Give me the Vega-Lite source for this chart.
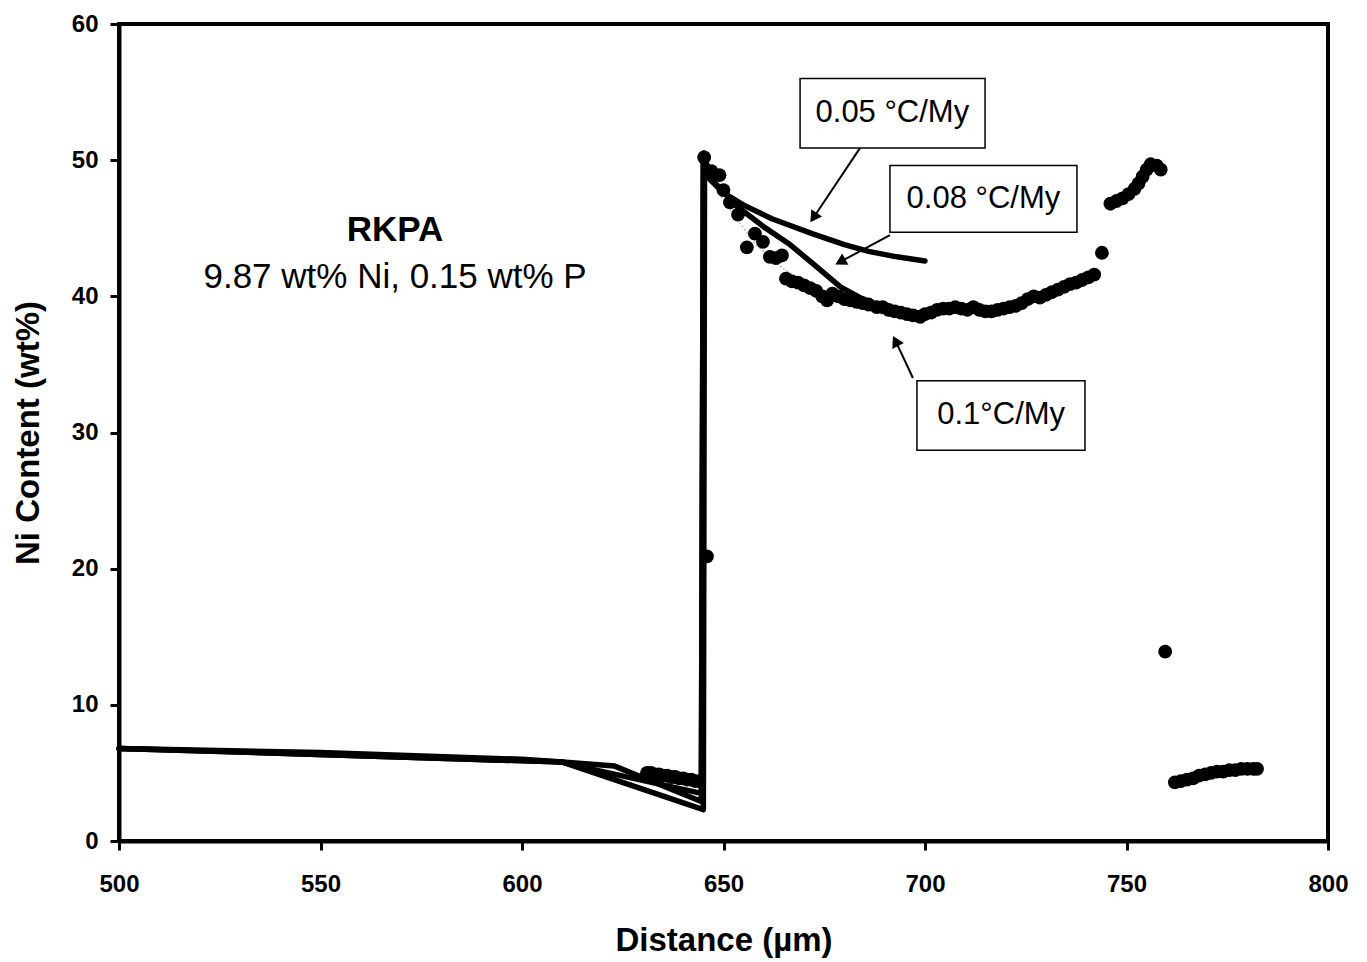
{
  "$schema": "https://vega.github.io/schema/vega-lite/v6.json",
  "width": 1209,
  "height": 817,
  "autosize": "none",
  "padding": {"left": 119, "top": 24, "right": 39, "bottom": 121},
  "background": "white",
  "config": {
    "view": {"stroke": "black", "strokeWidth": 4},
    "font": "Liberation Sans",
    "axis": {
      "grid": false,
      "domainColor": "black",
      "domainWidth": 4,
      "tickColor": "black",
      "tickWidth": 3,
      "tickSize": 9,
      "labelFont": "Liberation Sans",
      "labelFontWeight": "bold",
      "labelFontSize": 24,
      "labelColor": "black",
      "labelFlush": false,
      "titleFont": "Liberation Sans",
      "titleFontWeight": "bold",
      "titleFontSize": 33,
      "titleColor": "black"
    }
  },
  "datasets": {
    "model": [
      {"s": "0.05", "o": 1, "x": 500, "y": 6.8},
      {"s": "0.05", "o": 2, "x": 550, "y": 6.5},
      {"s": "0.05", "o": 3, "x": 600, "y": 6.0},
      {"s": "0.05", "o": 4, "x": 610, "y": 5.8},
      {"s": "0.05", "o": 5, "x": 623, "y": 5.5},
      {"s": "0.05", "o": 6, "x": 644.5, "y": 2.9},
      {"s": "0.05", "o": 7, "x": 645, "y": 50.5},
      {"s": "0.05", "o": 8, "x": 646.6, "y": 48.6},
      {"s": "0.05", "o": 9, "x": 650, "y": 47.6},
      {"s": "0.05", "o": 10, "x": 655, "y": 46.7},
      {"s": "0.05", "o": 11, "x": 662, "y": 45.7},
      {"s": "0.05", "o": 12, "x": 672, "y": 44.6},
      {"s": "0.05", "o": 13, "x": 680, "y": 43.8},
      {"s": "0.05", "o": 14, "x": 686, "y": 43.3},
      {"s": "0.05", "o": 15, "x": 693, "y": 42.9},
      {"s": "0.05", "o": 16, "x": 700, "y": 42.6},
      {"s": "0.08", "o": 1, "x": 500, "y": 6.8},
      {"s": "0.08", "o": 2, "x": 610, "y": 5.8},
      {"s": "0.08", "o": 3, "x": 617, "y": 5.3},
      {"s": "0.08", "o": 4, "x": 644.5, "y": 3.5},
      {"s": "0.08", "o": 5, "x": 645, "y": 50.5},
      {"s": "0.08", "o": 6, "x": 647, "y": 48.6},
      {"s": "0.08", "o": 7, "x": 653.4, "y": 46.6},
      {"s": "0.08", "o": 8, "x": 660, "y": 45.1},
      {"s": "0.08", "o": 9, "x": 666.5, "y": 43.8},
      {"s": "0.08", "o": 10, "x": 673, "y": 42.2},
      {"s": "0.08", "o": 11, "x": 679, "y": 40.7},
      {"s": "0.08", "o": 12, "x": 684.6, "y": 39.8},
      {"s": "0.08", "o": 13, "x": 690, "y": 39.2},
      {"s": "0.08", "o": 14, "x": 695, "y": 38.8},
      {"s": "0.08", "o": 15, "x": 700, "y": 38.6},
      {"s": "0.1", "o": 1, "x": 500, "y": 6.8},
      {"s": "0.1", "o": 2, "x": 610, "y": 5.8},
      {"s": "0.1", "o": 3, "x": 645, "y": 2.3},
      {"s": "0.1", "o": 4, "x": 645.3, "y": 50.5}
    ],
    "tail": [
      {"o": 1, "x": 646, "y": 48.8},
      {"o": 2, "x": 652, "y": 46.2},
      {"o": 3, "x": 658, "y": 43.8},
      {"o": 4, "x": 665, "y": 42.0},
      {"o": 5, "x": 672, "y": 40.7},
      {"o": 6, "x": 680, "y": 39.6},
      {"o": 7, "x": 690, "y": 38.6},
      {"o": 8, "x": 700, "y": 38.2}
    ],
    "dots": [
      {"x": 631, "y": 5.0}, {"x": 632, "y": 5.0}, {"x": 633, "y": 4.9}, {"x": 634, "y": 4.9},
      {"x": 635, "y": 4.8}, {"x": 636, "y": 4.8}, {"x": 637, "y": 4.7}, {"x": 638, "y": 4.7},
      {"x": 639, "y": 4.6}, {"x": 640, "y": 4.6}, {"x": 641, "y": 4.5}, {"x": 642, "y": 4.5},
      {"x": 643, "y": 4.4}, {"x": 644, "y": 4.4},
      {"x": 645.9, "y": 20.9},
      {"x": 645.2, "y": 50.2}, {"x": 647, "y": 49.2}, {"x": 649, "y": 48.9}, {"x": 650, "y": 47.8},
      {"x": 651.6, "y": 46.9}, {"x": 653.6, "y": 46.0},
      {"x": 655.8, "y": 43.6}, {"x": 657.8, "y": 44.6}, {"x": 659.8, "y": 44.0},
      {"x": 661.5, "y": 42.9}, {"x": 663, "y": 42.8}, {"x": 664.5, "y": 43.0},
      {"x": 665.5, "y": 41.3}, {"x": 667, "y": 41.1}, {"x": 668.5, "y": 41.0}, {"x": 670, "y": 40.8},
      {"x": 671.5, "y": 40.6}, {"x": 673, "y": 40.4}, {"x": 674.5, "y": 40.0}, {"x": 675.7, "y": 39.7},
      {"x": 677, "y": 40.2}, {"x": 678.5, "y": 40.0}, {"x": 680, "y": 39.8}, {"x": 681.5, "y": 39.7},
      {"x": 683, "y": 39.6}, {"x": 684.5, "y": 39.5}, {"x": 686, "y": 39.4}, {"x": 688, "y": 39.2},
      {"x": 689.5, "y": 39.2}, {"x": 691, "y": 39.0}, {"x": 692.5, "y": 38.9}, {"x": 694, "y": 38.8},
      {"x": 695.5, "y": 38.7}, {"x": 697, "y": 38.6}, {"x": 698.8, "y": 38.5}, {"x": 700, "y": 38.7},
      {"x": 701.5, "y": 38.8}, {"x": 703, "y": 39.0}, {"x": 704.5, "y": 39.1}, {"x": 706, "y": 39.1},
      {"x": 707.5, "y": 39.2}, {"x": 709, "y": 39.1}, {"x": 710.5, "y": 39.0}, {"x": 712, "y": 39.2},
      {"x": 713.5, "y": 39.0}, {"x": 715, "y": 38.9}, {"x": 716.5, "y": 38.9}, {"x": 718, "y": 39.0},
      {"x": 719.5, "y": 39.1}, {"x": 721, "y": 39.2}, {"x": 722.5, "y": 39.3}, {"x": 724, "y": 39.5},
      {"x": 725.5, "y": 39.8}, {"x": 727, "y": 40.0}, {"x": 728.5, "y": 39.9}, {"x": 730, "y": 40.1},
      {"x": 731.5, "y": 40.3}, {"x": 733, "y": 40.5}, {"x": 734.5, "y": 40.7}, {"x": 736, "y": 40.9},
      {"x": 737.5, "y": 41.0}, {"x": 739, "y": 41.2}, {"x": 740.5, "y": 41.4}, {"x": 742, "y": 41.6},
      {"x": 743.9, "y": 43.2},
      {"x": 746, "y": 46.8}, {"x": 747.5, "y": 47.0}, {"x": 749, "y": 47.2}, {"x": 750.5, "y": 47.5},
      {"x": 752, "y": 47.9}, {"x": 753, "y": 48.3}, {"x": 754, "y": 48.8}, {"x": 755, "y": 49.3},
      {"x": 756, "y": 49.7}, {"x": 757.5, "y": 49.6}, {"x": 758.5, "y": 49.3},
      {"x": 759.6, "y": 13.9},
      {"x": 762, "y": 4.3}, {"x": 763.5, "y": 4.4}, {"x": 765, "y": 4.5}, {"x": 766.5, "y": 4.6},
      {"x": 768, "y": 4.8}, {"x": 769.5, "y": 4.9}, {"x": 771, "y": 5.0}, {"x": 772.5, "y": 5.1},
      {"x": 774, "y": 5.1}, {"x": 775.5, "y": 5.2}, {"x": 777, "y": 5.2}, {"x": 778.5, "y": 5.3},
      {"x": 780, "y": 5.3}, {"x": 781.5, "y": 5.3}, {"x": 782.4, "y": 5.3}
    ],
    "boxes": [
      {"label": "0.05 °C/My", "x1": 669.0, "x2": 714.9, "y1": 50.9, "y2": 56.0, "tx": 691.9, "ty": 53.45},
      {"label": "0.08 °C/My", "x1": 691.3, "x2": 737.7, "y1": 44.7, "y2": 49.6, "tx": 714.5, "ty": 47.15},
      {"label": "0.1°C/My", "x1": 698.0, "x2": 739.7, "y1": 28.7, "y2": 33.8, "tx": 718.9, "ty": 31.25}
    ],
    "arrows": [
      {"x": 683.9, "y": 50.9, "x2": 672.6, "y2": 45.9, "hx": 672.6, "hy": 45.9, "a": 214},
      {"x": 691.3, "y": 44.5, "x2": 679.4, "y2": 42.6, "hx": 679.4, "hy": 42.6, "a": 241},
      {"x": 697.0, "y": 34.0, "x2": 692.9, "y2": 36.6, "hx": 692.9, "hy": 36.6, "a": 333}
    ],
    "title": [
      {"t": "RKPA", "x": 568.5, "y": 44.9}
    ],
    "sub": [
      {"t": "9.87 wt% Ni, 0.15 wt% P", "x": 568.5, "y": 41.4}
    ]
  },
  "layer": [
    {
      "data": {"name": "tail"},
      "mark": {"type": "line", "color": "#bbbbbb", "strokeWidth": 1.5, "strokeDash": [2, 2]},
      "encoding": {
        "x": {"field": "x", "type": "quantitative", "scale": {"domain": [500, 800], "nice": false, "zero": false},
              "axis": {"values": [500, 550, 600, 650, 700, 750, 800], "title": "Distance (µm)", "titlePadding": 28, "labelPadding": 22}},
        "y": {"field": "y", "type": "quantitative", "scale": {"domain": [0, 60], "nice": false, "zero": false},
              "axis": {"values": [0, 10, 20, 30, 40, 50, 60], "title": "Ni Content (wt%)", "titlePadding": 26, "labelPadding": 12}},
        "order": {"field": "o", "type": "quantitative"}
      }
    },
    {
      "data": {"name": "model"},
      "mark": {"type": "line", "color": "black", "strokeWidth": 5.5, "strokeJoin": "round", "strokeCap": "round"},
      "encoding": {
        "x": {"field": "x", "type": "quantitative"},
        "y": {"field": "y", "type": "quantitative"},
        "detail": {"field": "s"},
        "order": {"field": "o", "type": "quantitative"}
      }
    },
    {
      "data": {"name": "dots"},
      "mark": {"type": "point", "filled": true, "color": "black", "size": 190, "opacity": 1},
      "encoding": {
        "x": {"field": "x", "type": "quantitative"},
        "y": {"field": "y", "type": "quantitative"}
      }
    },
    {
      "data": {"name": "arrows"},
      "mark": {"type": "rule", "color": "black", "strokeWidth": 2},
      "encoding": {
        "x": {"field": "x", "type": "quantitative"},
        "y": {"field": "y", "type": "quantitative"},
        "x2": {"field": "x2"},
        "y2": {"field": "y2"}
      }
    },
    {
      "data": {"name": "arrows"},
      "mark": {"type": "point", "shape": "triangle", "filled": true, "color": "black", "size": 170, "opacity": 1},
      "encoding": {
        "x": {"field": "hx", "type": "quantitative"},
        "y": {"field": "hy", "type": "quantitative"},
        "angle": {"field": "a", "type": "quantitative", "scale": null}
      }
    },
    {
      "data": {"name": "boxes"},
      "mark": {"type": "rect", "fill": "white", "stroke": "black", "strokeWidth": 1.5},
      "encoding": {
        "x": {"field": "x1", "type": "quantitative"},
        "x2": {"field": "x2"},
        "y": {"field": "y1", "type": "quantitative"},
        "y2": {"field": "y2"}
      }
    },
    {
      "data": {"name": "boxes"},
      "mark": {"type": "text", "font": "Liberation Sans", "fontSize": 31, "color": "black", "align": "center", "baseline": "middle"},
      "encoding": {
        "x": {"field": "tx", "type": "quantitative"},
        "y": {"field": "ty", "type": "quantitative"},
        "text": {"field": "label"}
      }
    },
    {
      "data": {"name": "title"},
      "mark": {"type": "text", "font": "Liberation Sans", "fontSize": 35, "fontWeight": "bold", "color": "black", "align": "center", "baseline": "middle"},
      "encoding": {
        "x": {"field": "x", "type": "quantitative"},
        "y": {"field": "y", "type": "quantitative"},
        "text": {"field": "t"}
      }
    },
    {
      "data": {"name": "sub"},
      "mark": {"type": "text", "font": "Liberation Sans", "fontSize": 35, "color": "black", "align": "center", "baseline": "middle"},
      "encoding": {
        "x": {"field": "x", "type": "quantitative"},
        "y": {"field": "y", "type": "quantitative"},
        "text": {"field": "t"}
      }
    }
  ]
}
